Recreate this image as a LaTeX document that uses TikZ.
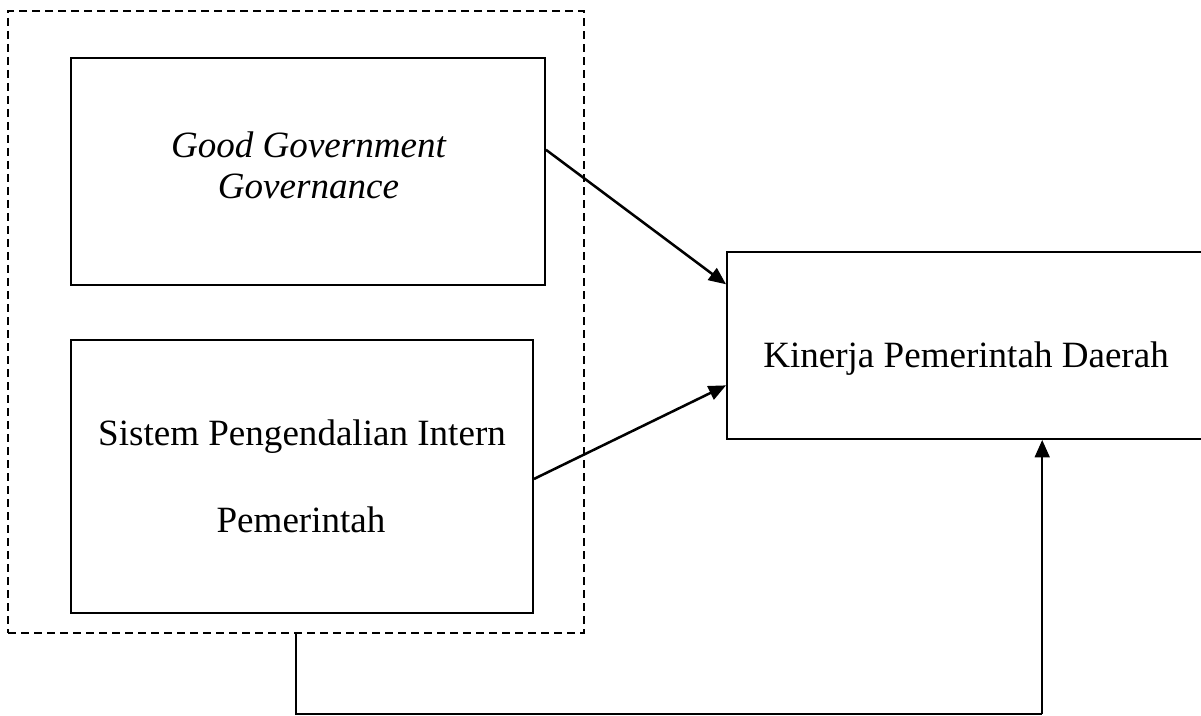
\documentclass[tikz,border=0pt]{standalone}
\usepackage{fontspec}
\setmainfont{Liberation Serif}
\usetikzlibrary{arrows.meta,calc}
\begin{document}
\begin{tikzpicture}[x=0.75pt,y=-0.75pt,
  box/.style={draw, line width=1.4pt, inner sep=0pt},
  txt/.style={inner sep=0pt, anchor=base, font=\fontsize{27.8}{32}\selectfont},
  grp/.style={draw, line width=1.4pt, dash pattern=on 6pt off 3.75pt},
  arr/.style={line width=1.9pt, -{Triangle[length=13pt,width=11pt]}},
  ln/.style={line width=1.9pt}]
\useasboundingbox (0,0) rectangle (1201,716);
\node[grp, minimum width=432pt, minimum height=466.5pt] (d) at (296,322) {};
\node[box, minimum width=355.5pt, minimum height=170.25pt] (g) at (308,171.5) {};
\node[box, minimum width=346.5pt, minimum height=204.75pt] (s) at (302,476.5) {};
\node[box, minimum width=362.25pt, minimum height=140.25pt] (k) at (968.5,345.5) {};
\node[txt, font=\fontsize{27.8}{32}\selectfont\itshape] (g1) at (308.5,158) {Good Government};
\node[txt, font=\fontsize{27.8}{32}\selectfont\itshape] (g2) at (308.5,199) {Governance};
\node[txt] (s1) at (302,445) {Sistem Pengendalian Intern};
\node[txt] (s2) at (301,532) {Pemerintah};
\node[txt] (kt) at (966,367) {Kinerja Pemerintah Daerah};
\draw[arr] ($(g.north east)!0.405!(g.south east)$) -- ($(k.north west)!0.176!(k.south west)$);
\draw[arr] ($(s.north east)!0.509!(s.south east)$) -- ($(k.north west)!0.711!(k.south west)$);
\coordinate (b1) at (d.south |- 0,714);
\coordinate (kb) at ($(k.south west)!0.652!(k.south east)$);
\draw[ln] (d.south) -- (b1) -- (b1 -| kb);
\draw[arr] (b1 -| kb) -- (kb);
\end{tikzpicture}
\end{document}
